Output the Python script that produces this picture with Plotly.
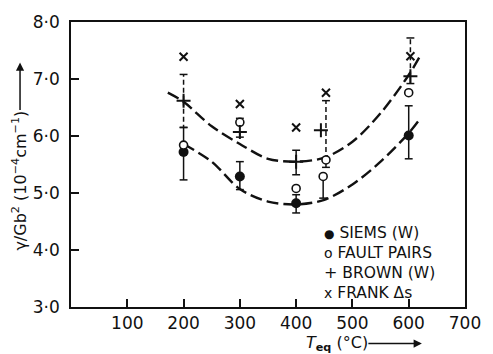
import plotly.graph_objects as go

# ---------------- data ----------------
x_tickvals = [100, 200, 300, 400, 500, 600, 700]
x_ticktext = ["100", "200", "300", "400", "500", "600", "700"]
y_tickvals = [3, 4, 5, 6, 7, 8]
y_ticktext = ["3·0", "4·0", "5·0", "6·0", "7·0", "8·0"]

siems_t = [200, 300, 400, 600]
siems_g = [5.72, 5.29, 4.82, 6.01]
siems_hi = [6.15, 5.55, 4.97, 6.53]
siems_lo = [5.23, 5.06, 4.65, 5.60]

fault_t = [200, 300, 400, 448, 453, 600]
fault_g = [5.84, 6.24, 5.08, 5.29, 5.58, 6.76]
fault_hi = [None, 6.31, None, None, 6.62, None]
fault_lo = [None, None, None, 4.91, 5.45, None]

brown_t = [200, 300, 400, 444, 603]
brown_g = [6.62, 6.07, 5.55, 6.10, 7.05]
brown_hi = [7.08, None, 5.75, None, 7.72]
brown_lo = [6.15, 5.98, 5.32, None, 6.92]

frank_t = [200, 300, 400, 453, 603]
frank_g = [7.39, 6.56, 6.15, 6.76, 7.40]

upper_t = [172, 200, 250, 300, 350, 400, 450, 500, 550, 600, 620]
upper_g = [6.76, 6.60, 6.17, 5.86, 5.60, 5.55, 5.62, 5.90, 6.40, 7.07, 7.40]

lower_t = [200, 250, 300, 350, 400, 450, 500, 550, 600, 620]
lower_g = [5.86, 5.55, 5.07, 4.85, 4.80, 4.88, 5.15, 5.55, 6.05, 6.30]

legend_labels = ["SIEMS (W)", "FAULT PAIRS", "BROWN (W)", "FRANK Δs"]
legend_glyphs = ["●", "o", "+", "x"]

# dashed error bars (series, temperature, side)
DASHED = {("brown", 200, "hi"), ("brown", 200, "lo"), ("brown", 603, "hi"),
          ("fault", 453, "hi")}

FONT = "DejaVu Sans"
INK = "#111111"
CAP = 7  # half cap width in degC


def error_segments(name, t, g, lo, hi):
    sx, sy, dx, dy = [], [], [], []
    for ti, gi, l, h in zip(t, g, lo, hi):
        for side, end in (("lo", l), ("hi", h)):
            if end is None:
                continue
            if (name, ti, side) in DASHED:
                dx += [ti, ti, None]
                dy += [gi, end, None]
            else:
                sx += [ti, ti, None]
                sy += [gi, end, None]
            sx += [ti - CAP, ti + CAP, None]
            sy += [end, end, None]
    return sx, sy, dx, dy


fig = go.Figure()

# fitted curves
for ct, cg in ((upper_t, upper_g), (lower_t, lower_g)):
    fig.add_trace(go.Scatter(x=ct, y=cg, mode="lines",
                             line=dict(color=INK, width=2.4, dash="12px,5px",
                                       shape="spline", smoothing=0.9),
                             showlegend=False, hoverinfo="skip"))

# error bars
for name, t, g, lo, hi in (("siems", siems_t, siems_g, siems_lo, siems_hi),
                           ("fault", fault_t, fault_g, fault_lo, fault_hi),
                           ("brown", brown_t, brown_g, brown_lo, brown_hi)):
    sx, sy, dx, dy = error_segments(name, t, g, lo, hi)
    if sx:
        fig.add_trace(go.Scatter(x=sx, y=sy, mode="lines",
                                 line=dict(color=INK, width=1.5),
                                 showlegend=False, hoverinfo="skip"))
    if dx:
        fig.add_trace(go.Scatter(x=dx, y=dy, mode="lines",
                                 line=dict(color=INK, width=1.5, dash="5px,3px"),
                                 showlegend=False, hoverinfo="skip"))

# markers
fig.add_trace(go.Scatter(x=siems_t, y=siems_g, mode="markers", name="SIEMS (W)",
                         marker=dict(symbol="circle", size=10, color=INK),
                         showlegend=False))
fig.add_trace(go.Scatter(x=fault_t, y=fault_g, mode="markers", name="FAULT PAIRS",
                         marker=dict(symbol="circle", size=8, color="white",
                                     line=dict(color=INK, width=1.6)),
                         showlegend=False))
fig.add_trace(go.Scatter(x=brown_t, y=brown_g, mode="markers", name="BROWN (W)",
                         marker=dict(symbol="cross-thin", size=10,
                                     line=dict(color=INK, width=2)),
                         showlegend=False))
fig.add_trace(go.Scatter(x=frank_t, y=frank_g, mode="markers", name="FRANK Δs",
                         marker=dict(symbol="x-thin", size=8,
                                     line=dict(color=INK, width=2)),
                         showlegend=False))

# pixel -> paper helpers for text placement
PL, PR, PT, PB = 71, 473, 19, 307


def xp(px):
    return (px - PL) / (PR - PL)


def yp(py):
    return (PB - py) / (PB - PT)


glyph_sizes = [12, 14, 16, 14]
legend_text = "<br>".join(
    f'<span style="font-size:{gs}px">{gl}</span> {lab}'
    for gl, lab, gs in zip(legend_glyphs, legend_labels, glyph_sizes))

ann = [
    # legend block
    dict(xref="paper", yref="paper", x=xp(328), y=yp(222), text=legend_text,
         showarrow=False, xanchor="left", yanchor="top", align="left",
         borderpad=0, font=dict(family=FONT, size=15.5, color=INK)),
    # x-axis title, with its arrow drawn from the text
    dict(xref="paper", yref="paper", x=xp(429), y=yp(344),
         text="<i>T</i><sub><b>eq</b></sub> (°C)", showarrow=True,
         ax=-85, ay=0, arrowhead=2, arrowsize=1.1, arrowwidth=1.5,
         arrowcolor=INK, standoff=0, borderpad=0,
         font=dict(family=FONT, size=16, color=INK)),
    # y-axis title, with its arrow drawn from the text
    dict(xref="paper", yref="paper", x=xp(19), y=yp(60),
         text="γ/Gb<sup>2</sup> (10<sup>−4</sup>cm<sup>−1</sup>)",
         showarrow=True, ax=0, ay=118, textangle=-90, arrowhead=2,
         arrowsize=1.1, arrowwidth=1.5, arrowcolor=INK, borderpad=0,
         font=dict(family=FONT, size=16, color=INK)),
]

fig.update_layout(
    width=493, height=354,
    margin=dict(l=PL, r=493 - PR, t=PT, b=354 - PB),
    paper_bgcolor="white", plot_bgcolor="white",
    font=dict(family=FONT, size=16, color=INK),
    annotations=ann,
    showlegend=False,
)
fig.update_xaxes(range=[0, 700], tickvals=x_tickvals, ticktext=x_ticktext,
                 ticks="inside", ticklen=8, tickwidth=1.5, tickcolor=INK,
                 showline=True, linewidth=1.5, linecolor=INK, mirror=True,
                 showgrid=False, zeroline=False, ticklabelstandoff=0,
                 tickfont=dict(family=FONT, size=17, color=INK))
fig.update_yaxes(range=[3, 8], tickvals=y_tickvals, ticktext=y_ticktext,
                 ticks="inside", ticklen=8, tickwidth=1.5, tickcolor=INK,
                 showline=True, linewidth=1.5, linecolor=INK, mirror=True,
                 showgrid=False, zeroline=False, ticklabelstandoff=6,
                 tickfont=dict(family=FONT, size=17, color=INK))

fig.write_html("out.html")
